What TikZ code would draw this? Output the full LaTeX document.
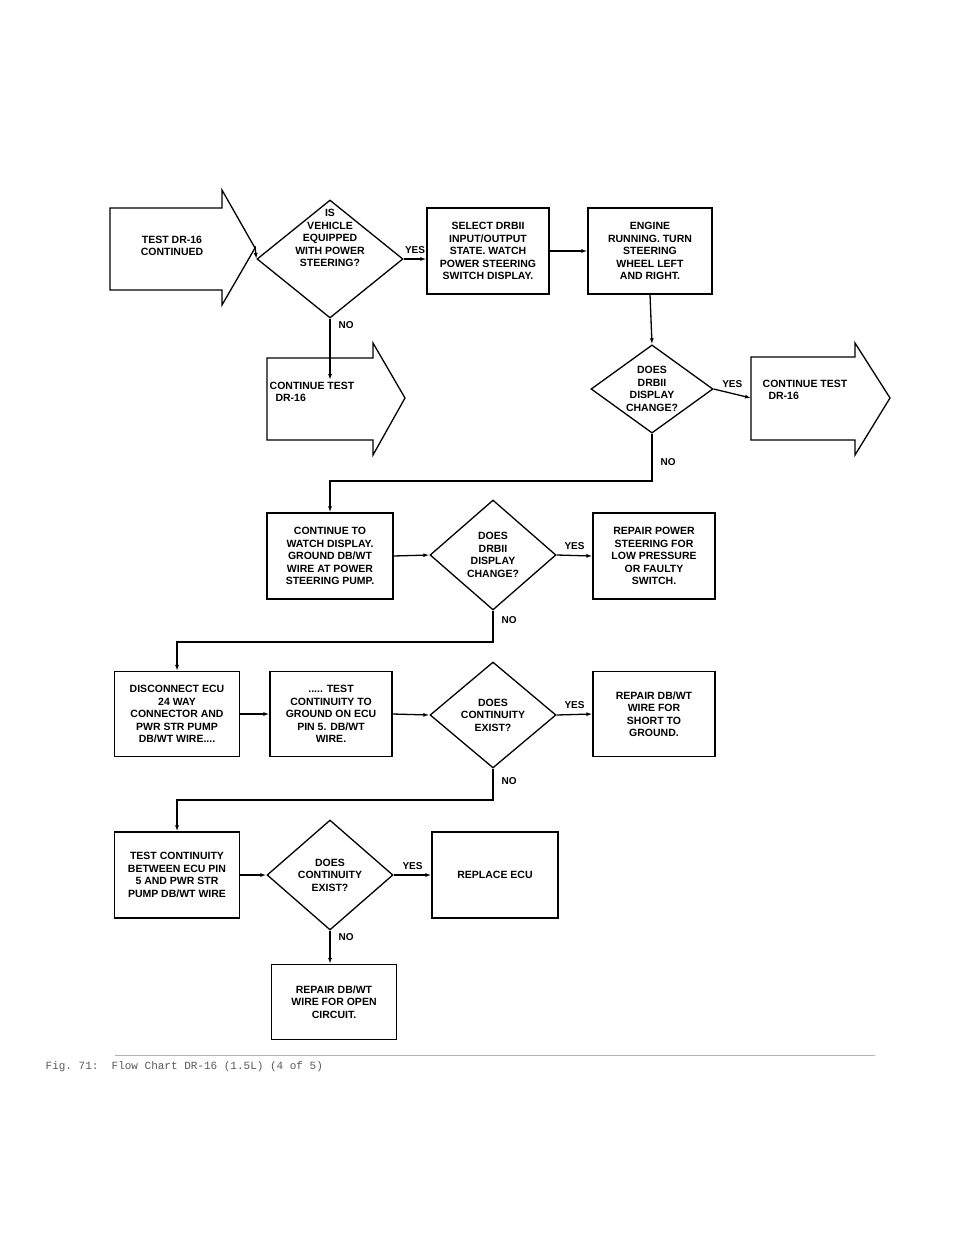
\documentclass[tikz,border=0pt]{standalone}
\usepackage{fontspec}
\setmainfont{Liberation Sans}
\setmonofont{Liberation Mono}
\usetikzlibrary{arrows.meta,shapes.geometric}
\begin{document}
\begin{tikzpicture}[x=1pt,y=-1pt,>={Latex[length=6pt,width=4pt]},line width=1.3pt,
	every node/.style={font=\bfseries\fontsize{10.5}{12.5}\selectfont,align=center,inner sep=0pt},
	box/.style={draw,minimum width=124pt,minimum height=86pt},
	test/.style={draw,diamond,minimum width=126pt,minimum height=108pt,aspect=1.2},
	lbl/.style={font=\bfseries\fontsize{10}{12}\selectfont}]
	\useasboundingbox (0,0) rectangle (960,1242);
	% continue arrows
	\draw (110,208) -- (222,208) -- (222,190) -- (255,248) -- (222,305) -- (222,290) -- (110,290) -- cycle;
	\node (start) at (172,246) {TEST DR-16\\CONTINUED};
	\draw (267,358) -- (373,358) -- (373,343) -- (405,398) -- (373,455) -- (373,440) -- (267,440) -- cycle;
	\node[align=left] (cont1) at (312,392) {CONTINUE TEST\\\ \ DR-16};
	\coordinate (cont1in) at (267,380);
	\draw (751,357) -- (855,357) -- (855,343) -- (890,398) -- (855,455) -- (855,440) -- (751,440) -- cycle;
	\node[align=left] (cont2) at (805,390) {CONTINUE TEST\\\ \ DR-16};
	\coordinate (cont2in) at (751,398);
	% row 1
	\node[test,minimum width=146pt,minimum height=118pt] (d1) at (330,259) {};
	\node at (330,238) {IS\\VEHICLE\\EQUIPPED\\WITH POWER\\STEERING?};
	\node[box,minimum width=122pt] (select) at (488,251) {SELECT DRBII\\INPUT/OUTPUT\\STATE. WATCH\\POWER STEERING\\SWITCH DISPLAY.};
	\node[box] (engine) at (650,251) {ENGINE\\RUNNING. TURN\\STEERING\\WHEEL LEFT\\AND RIGHT.};
	\node[test,minimum width=122pt,minimum height=88pt] (d2) at (652,389) {DOES\\DRBII\\DISPLAY\\CHANGE?};
	% row 3
	\node[box,minimum width=126pt] (watch) at (330,556) {CONTINUE TO\\WATCH DISPLAY.\\GROUND DB/WT\\WIRE AT POWER\\STEERING PUMP.};
	\node[test,minimum height=110pt] (d3) at (493,555) {DOES\\DRBII\\DISPLAY\\CHANGE?};
	\node[box,minimum width=122pt] (rep1) at (654,556) {REPAIR POWER\\STEERING FOR\\LOW PRESSURE\\OR FAULTY\\SWITCH.};
	% row 4
	\node[box,minimum width=125pt,minimum height=85pt] (disc) at (177,714) {DISCONNECT ECU\\24 WAY\\CONNECTOR AND\\PWR STR PUMP\\DB/WT WIRE....};
	\node[box,minimum width=122pt,minimum height=85pt] (cont) at (331,714) {..... TEST\\CONTINUITY TO\\GROUND ON ECU\\PIN 5. DB/WT\\WIRE.};
	\node[test,minimum height=106pt] (d4) at (493,715) {DOES\\CONTINUITY\\EXIST?};
	\node[box,minimum width=122pt,minimum height=85pt] (rep2) at (654,714) {REPAIR DB/WT\\WIRE FOR\\SHORT TO\\GROUND.};
	% row 5
	\node[box,minimum width=125pt] (between) at (177,875) {TEST CONTINUITY\\BETWEEN ECU PIN\\5 AND PWR STR\\PUMP DB/WT WIRE};
	\node[test,minimum height=110pt] (d5) at (330,875) {DOES\\CONTINUITY\\EXIST?};
	\node[box,minimum width=126pt] (ecu) at (495,875) {REPLACE ECU};
	\node[box,minimum width=125pt,minimum height=75pt] (rep3) at (334,1002) {REPAIR DB/WT\\WIRE FOR OPEN\\CIRCUIT.};
	% connectors
	\draw[->] (start.east -| 255,248) -- (d1.west);
	\draw[->] (d1.east) -- node[lbl,above=5pt] {YES} (select.west |- d1.east);
	\draw[->] (select.east) -- (engine.west);
	\draw[->] (d1.south) -- node[lbl,right=8pt,pos=0.1] {NO} (cont1in -| d1.south);
	\draw[->] (engine.south) -- (d2.north);
	\draw[->] (d2.east) -- node[lbl,above=5pt] {YES} (cont2in);
	\draw[->] (d2.south) -- node[lbl,right=8pt,pos=0.6] {NO} (652,481) -- (watch.north |- 0,481) -- (watch.north);
	\draw[->] (watch.east) -- (d3.west);
	\draw[->] (d3.east) -- node[lbl,above=5pt] {YES} (rep1.west);
	\draw[->] (d3.south) -- node[lbl,right=8pt,pos=0.3] {NO} (493,642) -- (disc.north |- 0,642) -- (disc.north);
	\draw[->] (disc.east) -- (cont.west);
	\draw[->] (cont.east) -- (d4.west);
	\draw[->] (d4.east) -- node[lbl,above=5pt] {YES} (rep2.west);
	\draw[->] (d4.south) -- node[lbl,right=8pt,pos=0.4] {NO} (493,800) -- (between.north |- 0,800) -- (between.north);
	\draw[->] (between.east) -- (d5.west);
	\draw[->] (d5.east) -- node[lbl,above=5pt] {YES} (ecu.west);
	\draw[->] (d5.south) -- node[lbl,right=8pt,pos=0.2] {NO} (rep3.north -| d5.south);
	% caption
	\draw[gray!60,line width=0.6pt] (115,1055) -- (875,1055);
	\node[anchor=west,font=\ttfamily\fontsize{11}{13}\selectfont,text=gray!70!black] (cap) at (45,1067) {Fig. 71:\ \ Flow Chart DR-16 (1.5L) (4 of 5)};
\end{tikzpicture}
\end{document}
